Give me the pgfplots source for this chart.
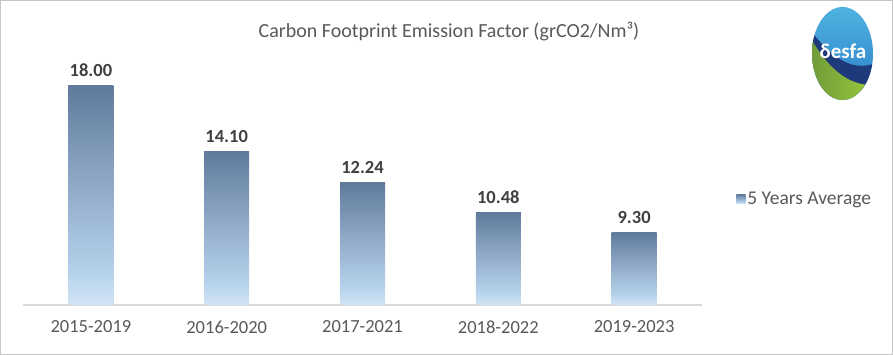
\documentclass[border=0pt]{standalone}
\usepackage{pgfplots}
\pgfplotsset{compat=1.18}
\usepackage{fontspec}
\setmainfont{Carlito}
\definecolor{bartop}{HTML}{5F7A9B}
\definecolor{barmid}{HTML}{95AECB}
\definecolor{barlight}{HTML}{B4D2EC}
\definecolor{barbot}{HTML}{D3E4F4}
\definecolor{txt}{HTML}{595959}
\definecolor{lbl}{HTML}{404040}
\definecolor{logoblue}{HTML}{2B7CC8}
\definecolor{logolight}{HTML}{4FB3E0}
\definecolor{logonavy}{HTML}{1F3A7A}
\definecolor{logogreen}{HTML}{6F9A3A}
\definecolor{logolime}{HTML}{9CCB3C}
\pgfdeclareverticalshading{barshade}{100bp}{color(0bp)=(barbot); color(25bp)=(barbot); color(32.5bp)=(barlight); color(50bp)=(barmid); color(75bp)=(bartop); color(100bp)=(bartop)}
\begin{document}
\begin{tikzpicture}[x=1pt,y=1pt]
\path[use as bounding box] (0,0) rectangle (893,355);
\fill[white] (0,0) rectangle (893,355);
\draw[color=gray!45, line width=1pt] (0.5,0.5) rectangle (892.5,354.5);
\node[font=\fontsize{20}{24}\selectfont, text=txt] at (449,323) {Carbon Footprint Emission Factor (grCO2/Nm³)};
% logo
\begin{scope}
\clip (842.5,301.5) ellipse [x radius=30.5, y radius=46.5];
\shade[top color=logolight, bottom color=logoblue] (810,254) rectangle (874,350);
\fill[logonavy] (810,325) .. controls (830,300) and (850,282) .. (876,292) -- (876,262) .. controls (850,258) and (830,280) .. (810,300) -- cycle;
\shade[left color=logogreen, right color=logolime] (810,318) .. controls (825,292) and (845,268) .. (876,270) -- (876,250) -- (810,250) -- cycle;
\end{scope}
\node[font=\fontsize{21}{24}\selectfont\bfseries, text=white] at (843,304) {δesfa};
\begin{axis}[
  at={(23pt,50pt)}, anchor=south west,
  width=679pt, height=270.7pt, scale only axis,
  xmin=-0.5, xmax=4.5, ymin=5, ymax=21,
  axis x line*=bottom, axis y line=none,
  x axis line style={draw=gray!30, line width=1.2pt, -},
  xtick={0,1,2,3,4},
  xticklabels={2015-2019,2016-2020,2017-2021,2018-2022,2019-2023},
  major tick length=0pt,
  xticklabel style={font=\fontsize{18.5}{22}\selectfont, text=txt, yshift=-12pt},
  legend style={at={(1.046,0.392)}, anchor=west, draw=none, fill=none, font=\fontsize{19.5}{22}\selectfont, text=txt},
  legend image code/.code={\shade[shading=barshade] (0pt,-4.5pt) rectangle (9pt,4.5pt);},
  clip=false,
]
% bars: (category +- half bar width, baseline 5 .. value)
\addplot[draw=none, shading=barshade] coordinates {(-0.1657,5) (-0.1657,18.00) (0.1657,18.00) (0.1657,5)} -- cycle;
\addlegendentry{5 Years Average}
\addplot[draw=none, shading=barshade, forget plot] coordinates {(0.8343,5) (0.8343,14.10) (1.1657,14.10) (1.1657,5)} -- cycle;
\addplot[draw=none, shading=barshade, forget plot] coordinates {(1.8343,5) (1.8343,12.24) (2.1657,12.24) (2.1657,5)} -- cycle;
\addplot[draw=none, shading=barshade, forget plot] coordinates {(2.8343,5) (2.8343,10.48) (3.1657,10.48) (3.1657,5)} -- cycle;
\addplot[draw=none, shading=barshade, forget plot] coordinates {(3.8343,5) (3.8343,9.30) (4.1657,9.30) (4.1657,5)} -- cycle;
% value labels
\addplot[draw=none, mark=none, forget plot,
  nodes near coords,
  nodes near coords style={anchor=south, font=\fontsize{18.5}{22}\selectfont\bfseries, text=lbl, yshift=5pt, /pgf/number format/.cd, fixed, fixed zerofill, precision=2, assume math mode=true}]
  coordinates {(0,18.00) (1,14.10) (2,12.24) (3,10.48) (4,9.30)};
\end{axis}
\end{tikzpicture}
\end{document}
